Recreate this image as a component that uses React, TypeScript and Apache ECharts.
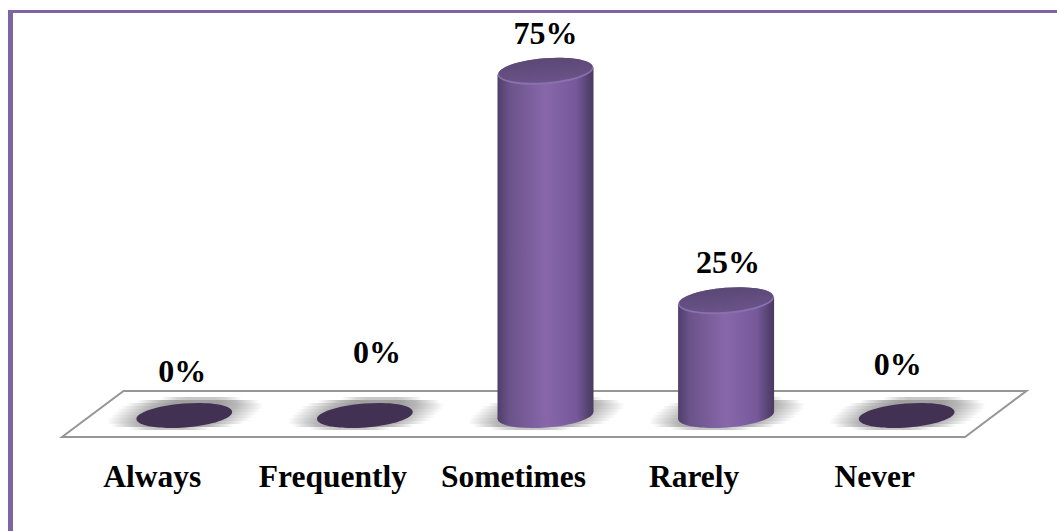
import React, { useEffect, useRef } from "react";
import * as echarts from "echarts";

const categories = ["Always", "Frequently", "Sometimes", "Rarely", "Never"];
const percentages = [0, 0, 75, 25, 0];
const valueLabels = ["0%", "0%", "75%", "25%", "0%"];

// Offset of each value label from the top of its cylinder (the source places them by hand).
const labelNudgeX = [-2, 12, 0, 2, -9];
const labelNudgeY = [-45, -64, -38, -39, -52];

const FRAME = "#8064a2";
const FONT = '"Liberation Serif", "Times New Roman", serif';
const DEPTH_X = 32;
const DEPTH_Y = -21.5;
const FLOOR_DX = 61.5;
const FLOOR_DY = -46;
const RX = 48;
const RY = 12;
const TILT = 0.08;

const bodyFill = () =>
  new echarts.graphic.LinearGradient(0, 0, 1, 0, [
    { offset: 0, color: "#4f3e6a" },
    { offset: 0.12, color: "#6b5389" },
    { offset: 0.5, color: "#8767aa" },
    { offset: 0.82, color: "#76599a" },
    { offset: 0.95, color: "#54416f" },
    { offset: 1, color: "#4a3a60" },
  ]);

const streakFill = () =>
  new echarts.graphic.LinearGradient(0, 0, 1, 0, [
    { offset: 0, color: "rgba(165,165,165,0)" },
    { offset: 0.2, color: "rgba(165,165,165,0.8)" },
    { offset: 0.32, color: "rgba(160,160,160,1)" },
    { offset: 0.68, color: "rgba(160,160,160,1)" },
    { offset: 0.8, color: "rgba(165,165,165,0.8)" },
    { offset: 1, color: "rgba(165,165,165,0)" },
  ]);

// Soft floor shadow: thin horizontal streaks that fade at both ends, sheared with the ellipse.
function shadowStreaks(cx: number, cy: number) {
  const out: any[] = [];
  const halfH = 16.5;
  for (let dy = -halfH; dy < halfH; dy += 3) {
    const mid = dy + 1.5;
    const t = mid / halfH;
    const half = 72 * Math.sqrt(1 - t * t * t * t);
    const c = cx - mid * 1.05;
    out.push({
      type: "rect",
      shape: { x: c - half, y: cy + dy, width: half * 2, height: 3 },
      style: { fill: streakFill(), opacity: Math.abs(t) > 0.85 ? 0.6 : 1 },
    });
  }
  return out;
}

function renderFloor(_params: any, api: any) {
  const a = api.coord([0, 0]);
  const b = api.coord([4, 0]);
  const band = (b[0] - a[0]) / 4;
  const x0 = a[0] - band / 2;
  const x1 = b[0] + band / 2;
  const y = a[1];
  return {
    type: "polygon",
    shape: {
      points: [
        [x0, y],
        [x1, y],
        [x1 + FLOOR_DX, y + FLOOR_DY],
        [x0 + FLOOR_DX, y + FLOOR_DY],
      ],
    },
    style: { fill: "#ffffff", stroke: "#969696", lineWidth: 2 },
  };
}

function renderCylinder(params: any, api: any) {
  const idx = api.value(0);
  const value = api.value(1);
  const base = api.coord([idx, 0]);
  const top = api.coord([idx, value]);
  const cx = base[0] + DEPTH_X;
  const yBase = base[1] + DEPTH_Y;
  const yTop = top[1] + DEPTH_Y;
  const lean = RX * Math.sin(TILT);
  const ell = (y: number, rx: number, ry: number, fill: any, dx = 0) => ({
    type: "ellipse",
    x: cx + dx,
    y,
    rotation: TILT,
    shape: { cx: 0, cy: 0, rx, ry },
    style: { fill },
  });
  const children: any[] = shadowStreaks(cx + 1, yBase - 2);
  if (value > 0) {
    children.push(ell(yBase, RX, RY, bodyFill()));
    children.push({
      type: "polygon",
      shape: {
        points: [
          [cx - RX, yTop + lean],
          [cx + RX, yTop - lean],
          [cx + RX, yBase - lean],
          [cx - RX, yBase + lean],
        ],
      },
      style: { fill: bodyFill() },
    });
    children.push(ell(yTop, RX, RY + 1, "#8a70ad"));
    children.push(ell(yTop - 1, RX - 1, RY, new echarts.graphic.LinearGradient(0, 0, 0, 1, [
      { offset: 0, color: "#5b4875" },
      { offset: 1, color: "#6a5389" },
    ])));
  } else {
    children.push(ell(yBase, RX, RY, "#433153"));
  }
  children.push({
    type: "text",
    x: cx + labelNudgeX[params.dataIndex],
    y: yTop + labelNudgeY[params.dataIndex],
    style: {
      text: valueLabels[params.dataIndex],
      fill: "#000000",
      font: `bold 32px ${FONT}`,
      align: "center",
      verticalAlign: "middle",
    },
  });
  return { type: "group", children };
}

export default function App() {
  const ref = useRef<HTMLDivElement>(null);
  useEffect(() => {
    document.body.style.margin = "0";
    const chart = echarts.init(ref.current!, null, { renderer: "svg" });
    chart.setOption({
      animation: false,
      backgroundColor: "#ffffff",
      graphic: [
        { type: "rect", shape: { x: 8, y: 10, width: 1049, height: 3 }, style: { fill: FRAME } },
        { type: "rect", shape: { x: 8, y: 10, width: 5, height: 521 }, style: { fill: FRAME } },
      ],
      grid: { left: 62, width: 903, top: 69.8, height: 367.2, containLabel: false },
      xAxis: {
        type: "category",
        data: categories,
        axisLine: { show: false },
        axisTick: { show: false },
        axisLabel: {
          color: "#000000",
          fontFamily: FONT,
          fontWeight: "bold",
          fontSize: 31.5,
          margin: 23,
          interval: 0,
        },
      },
      yAxis: { type: "value", min: 0, max: 80, show: false, splitLine: { show: false } },
      series: [
        {
          type: "custom",
          renderItem: renderFloor,
          data: [[0, 0]],
          silent: true,
          z: 1,
          clip: false,
        },
        {
          type: "custom",
          renderItem: renderCylinder,
          data: percentages.map((v, i) => [i, v]),
          encode: { x: 0, y: 1 },
          z: 2,
          clip: false,
        },
      ],
    });
    return () => chart.dispose();
  }, []);
  return <div ref={ref} style={{ width: 1057, height: 531 }} />;
}
